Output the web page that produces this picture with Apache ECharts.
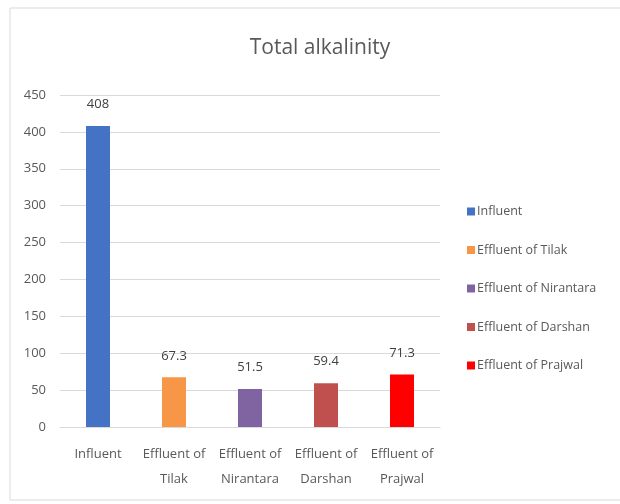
<!DOCTYPE html>
<html>
<head>
<meta charset="utf-8">
<script src="https://cdn.jsdelivr.net/npm/echarts@6/dist/echarts.min.js"></script>
<style>
  html, body { margin: 0; padding: 0; background: #fff; }
  #chart { width: 620px; height: 504px; }
</style>
</head>
<body>
<div id="chart"></div>
<script>
// Total alkalinity per sample
const categories = ['Influent', 'Effluent of\nTilak', 'Effluent of\nNirantara', 'Effluent of\nDarshan', 'Effluent of\nPrajwal'];
const seriesNames = ['Influent', 'Effluent of Tilak', 'Effluent of Nirantara', 'Effluent of Darshan', 'Effluent of Prajwal'];
const values = [408, 67.3, 51.5, 59.4, 71.3];
const colors = ['#4472c4', '#f79646', '#8064a2', '#c0504d', '#ff0000'];
const yTicks = { min: 0, max: 450, interval: 50 };

const FONT = '"Open Sans", sans-serif';
const chart = echarts.init(document.getElementById('chart'), null, { renderer: 'canvas' });

// one series per sample so each gets its own legend entry; stacking keeps them on their own category
const series = seriesNames.map((name, i) => ({
  name: name,
  type: 'bar',
  stack: 'all',
  barWidth: 24,
  itemStyle: { color: colors[i] },
  data: values.map((v, j) => (j === i ? v : null)),
  label: {
    show: true,
    position: 'top',
    distance: 15,
    color: '#404040',
    fontFamily: FONT,
    fontSize: 13
  }
}));

chart.setOption({
  animation: false,
  backgroundColor: '#fff',
  graphic: [{
    type: 'rect',
    shape: { x: 10, y: 8, width: 640, height: 492 },
    style: { fill: 'none', stroke: '#d9d9d9', lineWidth: 1 },
    silent: true,
    z: -1
  }],
  title: {
    text: 'Total alkalinity',
    left: 315,
    textAlign: 'center',
    top: 33,
    textStyle: { fontFamily: FONT, fontSize: 21, fontWeight: 'normal', color: '#595959' }
  },
  legend: {
    orient: 'vertical',
    left: 462,
    top: 200,
    itemWidth: 8,
    itemHeight: 8,
    itemGap: 25.5,
    icon: 'rect',
    textStyle: { fontFamily: FONT, fontSize: 12.5, color: '#595959', padding: [0, 0, 0, -3] },
    data: seriesNames
  },
  grid: { left: 60, right: 180, top: 95, bottom: 77 },
  xAxis: {
    type: 'category',
    data: categories,
    axisLine: { show: true, lineStyle: { color: '#d9d9d9' } },
    axisTick: { show: false },
    axisLabel: {
      interval: 0,
      margin: 15,
      color: '#595959',
      fontFamily: FONT,
      fontSize: 13,
      lineHeight: 25
    }
  },
  yAxis: {
    type: 'value',
    min: yTicks.min,
    max: yTicks.max,
    interval: yTicks.interval,
    axisLine: { show: false },
    axisTick: { show: false },
    splitLine: { lineStyle: { color: '#d9d9d9' } },
    axisLabel: { color: '#595959', fontFamily: FONT, fontSize: 13, margin: 14 }
  },
  series: series
});
</script>
</body>
</html>
